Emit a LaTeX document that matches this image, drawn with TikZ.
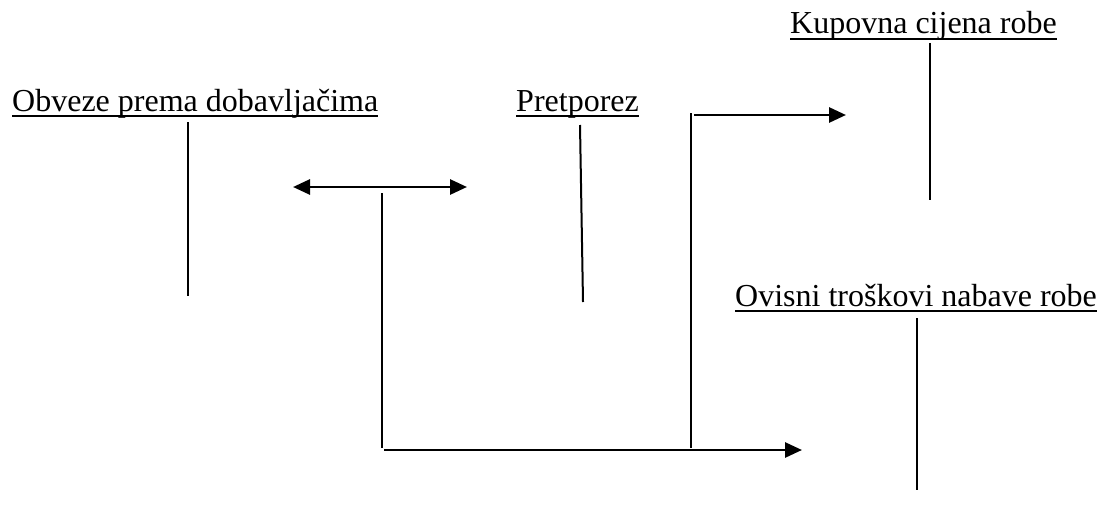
\documentclass[tikz,border=0pt]{standalone}
\usepackage{fontspec}
\setmainfont{Liberation Serif}
\usetikzlibrary{arrows.meta}
\begin{document}
\begin{tikzpicture}[x=1pt,y=-1pt,
  lbl/.style={anchor=base west,inner sep=0pt,font=\fontsize{32}{38}\selectfont},
  uline/.style={line width=1.8pt},
  vline/.style={line width=2pt},
  conn/.style={line width=2.8pt},
  tipr/.style={-{Triangle[length=17pt,width=15pt]}},
  tipb/.style={{Triangle[length=17pt,width=15pt]}-{Triangle[length=17pt,width=15pt]}}]
\useasboundingbox (0,0) rectangle (1115,511);
% labels
\node[lbl] (obv) at (12,111) {Obveze prema dobavljačima};
\node[lbl] (pre) at (516,111) {Pretporez};
\node[lbl] (kup) at (790,34) {Kupovna cijena robe};
\node[lbl] (ovi) at (735,306) {Ovisni troškovi nabave robe\ };
\foreach \n in {obv,pre,kup,ovi}
  \draw[uline] ([yshift=-5pt]\n.base west) -- ([yshift=-5pt]\n.base east);
% stems
\coordinate (obvT) at (188,122); \coordinate (obvB) at (188,296);
\coordinate (preT) at (580,125); \coordinate (preB) at (583,302);
\coordinate (kupT) at (930,43);  \coordinate (kupB) at (930,200);
\coordinate (oviT) at (917,318); \coordinate (oviB) at (917,490);
\draw[vline] (obvT) -- (obvB);
\draw[vline] (preT) -- (preB);
\draw[vline] (kupT) -- (kupB);
\draw[vline] (oviT) -- (oviB);
% connectors
\coordinate (dL) at (293,187); \coordinate (dR) at (467,187);
\draw[conn,tipb] (dL) -- (dR);
\coordinate (j1) at (382,193); \coordinate (j2) at (382,448);
\draw[vline] (j1) -- (j2);
\coordinate (hL) at (384,450); \coordinate (hR) at (802,450);
\draw[conn,tipr] (hL) -- (hR);
\coordinate (j3) at (691,113); \coordinate (j4) at (691,448);
\draw[vline] (j3) -- (j4);
\coordinate (aL) at (694,115); \coordinate (aR) at (846,115);
\draw[conn,tipr] (aL) -- (aR);
\end{tikzpicture}
\end{document}
